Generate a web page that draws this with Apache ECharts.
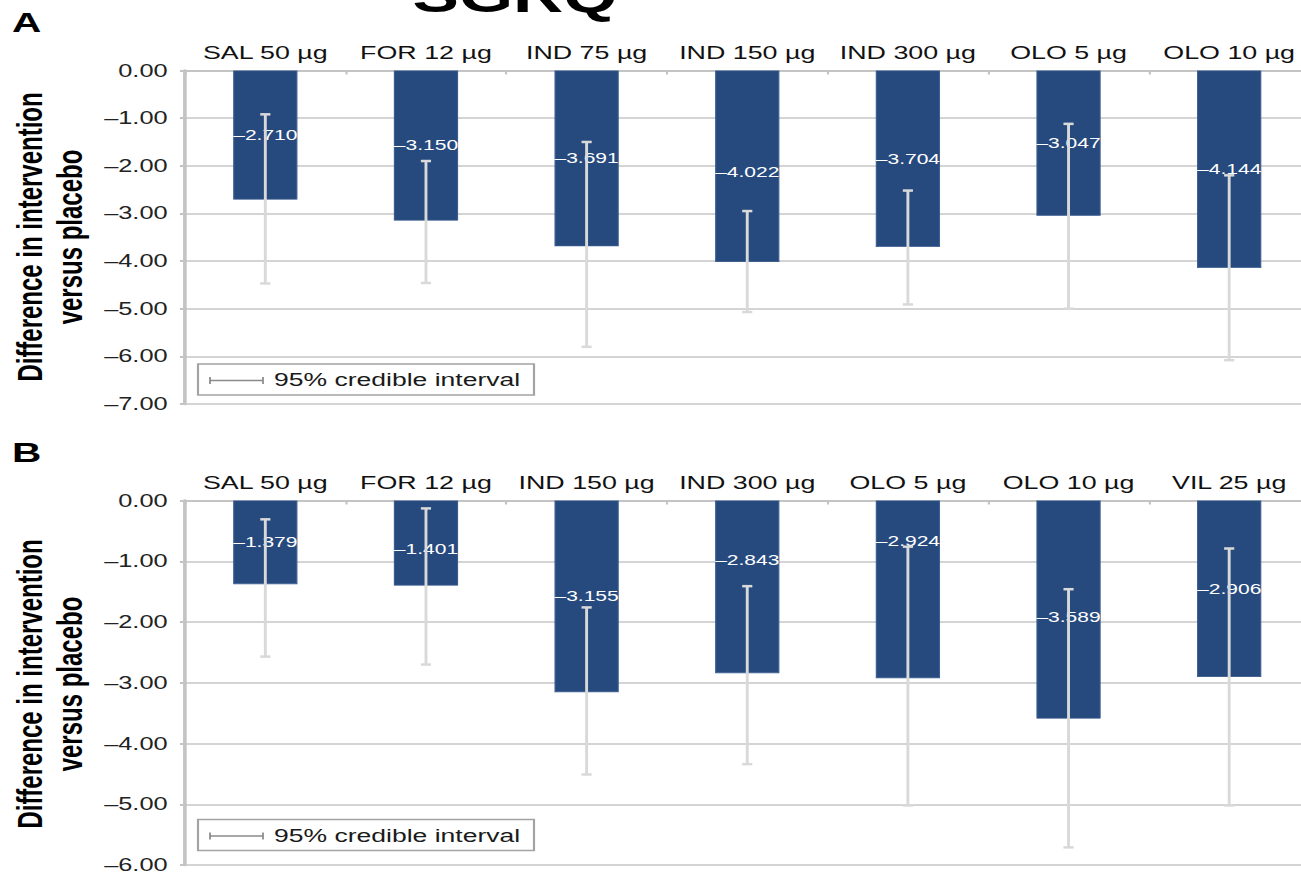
<!DOCTYPE html>
<html><head><meta charset="utf-8">
<script src="https://cdn.jsdelivr.net/npm/echarts@6/dist/echarts.min.js"></script>
<style>
html,body{margin:0;padding:0;overflow:hidden;background:#fff;width:1301px;height:874px}
#chart{width:905px;height:874px;transform:scaleX(1.45);transform-origin:0 0;}
</style></head><body><div id="chart"></div>
<script>
// ---- data ----
const categoriesA = ['SAL 50 µg','FOR 12 µg','IND 75 µg','IND 150 µg','IND 300 µg','OLO 5 µg','OLO 10 µg'];
const valuesA = [-2.710,-3.150,-3.691,-4.022,-3.704,-3.047,-4.144];
const ciLowA  = [-4.47,-4.46,-5.80,-5.07,-4.91,-5.00,-6.08];
const ciHighA = [-0.92,-1.90,-1.50,-2.95,-2.52,-1.12,-2.20];

const categoriesB = ['SAL 50 µg','FOR 12 µg','IND 150 µg','IND 300 µg','OLO 5 µg','OLO 10 µg','VIL 25 µg'];
const valuesB = [-1.379,-1.401,-3.155,-2.843,-2.924,-3.589,-2.906];
const ciLowB  = [-2.57,-2.70,-4.51,-4.34,-5.02,-5.71,-5.02];
const ciHighB = [-0.31,-0.13,-1.76,-1.41,-0.76,-1.46,-0.79];

const yMinA = -7, yMinB = -6, yMax = 0, yStep = 1;
const panelTitles = ['A','B'];
const bigTitle = 'SGRQ';
const yTitle1 = 'Difference in intervention';
const yTitle2 = 'versus placebo';
const legendText = '95% credible interval';

// ---- layout / style ----
const S = 1.45;               // horizontal stretch of the reference picture
const W = 905;
const X = p => p / S;         // page x -> chart x
const FONT = "'Liberation Sans', Arial, Helvetica, sans-serif";
const BAR = '#264a7e';
const GRID = '#d4d4d4';
const AXIS = '#c4c4c4';
const ERR = '#d9d9d9';
const labelShift = [{3: 6}, {1: 6, 3: -27, 4: -48, 5: 8}];

const fmtTick = v => (v < 0 ? '\u2013' : '') + Math.abs(v).toFixed(2);
const fmtVal = v => (v < 0 ? '\u2013' : '') + Math.abs(v).toFixed(3);

const grids = [
  {left: X(185), right: W - X(1309.5), top: 70.5, height: 333.5},
  {left: X(185), right: W - X(1309.5), top: 500.5, height: 366.2}
];

function xAxisFor(cats, gi) {
  return {
    type: 'category', gridIndex: gi, position: 'top', data: cats,
    axisLine: {show: true, lineStyle: {color: AXIS, width: 2}},
    axisTick: {show: true, inside: true, length: 4, lineStyle: {color: AXIS, width: 1.5}},
    axisLabel: {interval: 0, margin: 8, fontSize: 18.5, color: '#111', fontFamily: FONT},
    splitLine: {show: false}
  };
}
function yAxisFor(min, gi) {
  return {
    type: 'value', gridIndex: gi, min: min, max: yMax, interval: yStep,
    axisLine: {show: true, onZero: false, lineStyle: {color: AXIS, width: 2.5}},
    axisTick: {show: true, length: 3.5, lineStyle: {color: AXIS, width: 2}},
    axisLabel: {margin: 12, fontSize: 17.5, color: '#222', fontFamily: FONT, formatter: fmtTick},
    splitLine: {show: true, lineStyle: {color: GRID, width: 2}}
  };
}

function barSeries(vals, gi) {
  return {
    type: 'bar', xAxisIndex: gi, yAxisIndex: gi, barWidth: '40%', z: 2,
    itemStyle: {color: BAR, borderColor: '#3b5d90', borderWidth: 0.8},
    data: vals.map((v, i) => ({
      value: v,
      label: {offset: [0, labelShift[gi][i] || 0]}
    })),
    label: {
      show: true, position: 'inside', color: '#fff', fontSize: 14.5, fontFamily: FONT,
      formatter: p => fmtVal(p.value)
    }
  };
}

function errRender(params, api) {
  const lo = api.coord([api.value(0), api.value(1)]);
  const hi = api.coord([api.value(0), api.value(2)]);
  const cap = 3.5;
  const st = {stroke: ERR, lineWidth: 2};
  const cs = {stroke: ERR, lineWidth: 2.5};
  return {type: 'group', children: [
    {type: 'line', shape: {x1: lo[0], y1: lo[1], x2: hi[0], y2: hi[1]}, style: st},
    {type: 'line', shape: {x1: lo[0] - cap, y1: lo[1], x2: lo[0] + cap, y2: lo[1]}, style: cs},
    {type: 'line', shape: {x1: hi[0] - cap, y1: hi[1], x2: hi[0] + cap, y2: hi[1]}, style: cs}
  ]};
}
function errSeries(lo, hi, gi) {
  return {
    type: 'custom', xAxisIndex: gi, yAxisIndex: gi, z: 3, silent: true,
    renderItem: errRender,
    data: lo.map((l, i) => [i, l, hi[i]])
  };
}

function legendGraphic(top) {
  return [
    {type: 'rect', shape: {x: X(198), y: top, width: X(534) - X(198), height: 31},
     style: {fill: '#fff', stroke: '#a3a3a3', lineWidth: 1.5}, z: 10},
    {type: 'line', shape: {x1: X(210), y1: top + 16.5, x2: X(263), y2: top + 16.5},
     style: {stroke: '#8a8a8a', lineWidth: 1.5}, z: 11},
    {type: 'line', shape: {x1: X(210), y1: top + 13, x2: X(210), y2: top + 20},
     style: {stroke: '#8a8a8a', lineWidth: 1.2}, z: 11},
    {type: 'line', shape: {x1: X(263), y1: top + 13, x2: X(263), y2: top + 20},
     style: {stroke: '#8a8a8a', lineWidth: 1.2}, z: 11},
    {type: 'text', x: X(274), y: top + 16, z: 11,
     style: {text: legendText, fontSize: 18.3, fontFamily: FONT, fill: '#1a1a1a', verticalAlign: 'middle', align: 'left'}}
  ];
}
function yTitleGraphic(cy) {
  const s = {fontSize: 24, fontWeight: 'bold', fontFamily: FONT, fill: '#000', align: 'center', verticalAlign: 'middle'};
  return [
    {type: 'text', x: X(30), y: cy, rotation: Math.PI / 2, style: Object.assign({text: yTitle1}, s)},
    {type: 'text', x: X(70), y: cy, rotation: Math.PI / 2, style: Object.assign({text: yTitle2}, s)}
  ];
}

const graphics = [].concat(
  [{type: 'text', x: X(515), y: 12 - 0.3465 * 48, style: {text: bigTitle, fontSize: 48, fontWeight: 'bold', fontFamily: FONT, fill: '#000', align: 'center', verticalAlign: 'middle'}}],
  [{type: 'text', x: X(12), y: 22, style: {text: panelTitles[0], fontSize: 28, fontWeight: 'bold', fontFamily: FONT, fill: '#000', align: 'left', verticalAlign: 'middle'}}],
  [{type: 'text', x: X(12), y: 451.5, style: {text: panelTitles[1], fontSize: 28, fontWeight: 'bold', fontFamily: FONT, fill: '#000', align: 'left', verticalAlign: 'middle'}}],
  yTitleGraphic(237), yTitleGraphic(684),
  legendGraphic(364), legendGraphic(819.5)
);

const chart = echarts.init(document.getElementById('chart'), null, {renderer: 'svg', width: W, height: 874});
chart.setOption({
  animation: false,
  backgroundColor: '#fff',
  grid: grids,
  xAxis: [xAxisFor(categoriesA, 0), xAxisFor(categoriesB, 1)],
  yAxis: [yAxisFor(yMinA, 0), yAxisFor(yMinB, 1)],
  series: [
    barSeries(valuesA, 0), errSeries(ciLowA, ciHighA, 0),
    barSeries(valuesB, 1), errSeries(ciLowB, ciHighB, 1)
  ],
  graphic: graphics
});
</script></body></html>
